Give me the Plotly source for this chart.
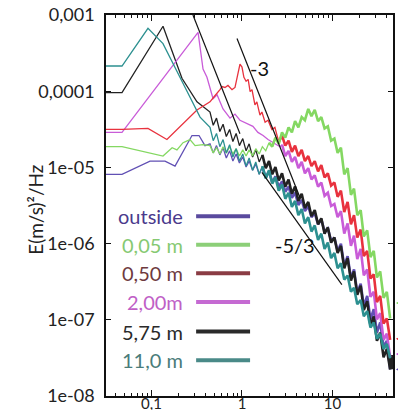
import math
import plotly.graph_objects as go

# ---------------- data ----------------
# shared high-frequency grid (Hz)
HF_FREQ = [0.443, 0.481, 0.523, 0.569, 0.618, 0.671, 0.730, 0.793, 0.862, 0.937,
           1.02, 1.11, 1.20, 1.31, 1.42, 1.55, 1.68, 1.83, 1.99, 2.16,
           2.34, 2.55, 2.77, 3.01, 3.27, 3.56, 3.86, 4.20, 4.57, 4.96,
           5.40, 5.86, 6.37, 6.93, 7.53, 8.18, 8.89, 9.66, 10.5, 11.4,
           12.4, 13.5, 14.7, 16.0, 17.3, 18.8, 20.5, 22.2, 24.2, 26.3,
           28.6, 31.0, 33.7, 36.7, 39.9, 43.4]

# outside
OUT_LOW_F = [0.031, 0.0472, 0.0962, 0.141, 0.182, 0.280, 0.335, 0.390]
OUT_LOW_E = [8.11e-6, 8.11e-6, 1.21e-5, 1.21e-5, 1.04e-5, 2.62e-5, 2.62e-5, 1.93e-5]
OUT_HF_E = [2.04e-5, 1.55e-5, 1.93e-5, 1.46e-5, 1.81e-5, 1.33e-5, 1.65e-5, 1.21e-5, 1.50e-5, 1.14e-5,
            1.37e-5, 1.01e-5, 1.21e-5, 9.17e-6, 1.10e-5, 8.11e-6, 1.01e-5, 7.39e-6, 8.89e-6, 6.33e-6,
            7.62e-6, 5.60e-6, 6.53e-6, 4.80e-6, 5.60e-6, 3.99e-6, 4.65e-6, 3.21e-6, 3.75e-6, 2.67e-6,
            3.11e-6, 2.22e-6, 2.51e-6, 1.79e-6, 2.08e-6, 1.44e-6, 1.58e-6, 1.09e-6, 1.20e-6, 8.01e-7,
            9.94e-7, 5.04e-7, 6.86e-7, 3.48e-7, 4.59e-7, 2.26e-7, 2.98e-7, 1.51e-7, 2.06e-7, 1.01e-7,
            1.38e-7, 6.78e-8, 9.23e-8, 4.40e-8, 5.30e-8, 2.23e-8]

# 0,05 m
GREEN_LOW_F = [0.031, 0.0472, 0.134, 0.169, 0.191, 0.223, 0.266, 0.303, 0.371]
GREEN_LOW_E = [1.87e-5, 1.87e-5, 1.41e-5, 1.81e-5, 1.70e-5, 2.11e-5, 2.32e-5, 1.93e-5, 1.99e-5]
GREEN_HF_E = [1.93e-5, 1.55e-5, 1.81e-5, 1.50e-5, 1.87e-5, 1.55e-5, 1.87e-5, 1.50e-5, 1.76e-5, 1.41e-5,
              1.70e-5, 1.41e-5, 1.70e-5, 1.41e-5, 1.76e-5, 1.50e-5, 1.87e-5, 1.65e-5, 2.11e-5, 1.87e-5,
              2.46e-5, 2.04e-5, 2.88e-5, 2.46e-5, 3.35e-5, 2.88e-5, 4.04e-5, 3.35e-5, 4.57e-5, 4.16e-5,
              5.85e-5, 4.71e-5, 5.67e-5, 4.04e-5, 4.57e-5, 3.25e-5, 3.46e-5, 2.24e-5, 2.39e-5, 1.55e-5,
              1.81e-5, 8.11e-6, 9.76e-6, 4.37e-6, 5.26e-6, 2.36e-6, 2.75e-6, 1.24e-6, 1.49e-6, 6.65e-7,
              8.01e-7, 3.59e-7, 4.32e-7, 1.94e-7, 2.33e-7, 1.04e-7]

# 0,50 m
RED_LOW_F = [0.031, 0.0472, 0.0914, 0.148, 0.318, 0.443, 0.491, 0.530, 0.571, 0.601,
             0.649, 0.700, 0.776, 0.837, 0.903, 0.950, 1.00, 1.05, 1.11, 1.17,
             1.23, 1.29, 1.39, 1.46, 1.58, 1.66, 1.80, 1.94, 2.14, 2.31, 2.44]
RED_LOW_E = [3.15e-5, 3.15e-5, 3.25e-5, 2.32e-5, 5.67e-5, 7.25e-5, 8.46e-5, 9.29e-5, 1.05e-4, 1.15e-4,
             1.12e-4, 1.19e-4, 1.05e-4, 1.12e-4, 1.62e-4, 2.27e-4, 2.07e-4, 1.52e-4, 1.35e-4, 1.43e-4,
             9.88e-5, 1.05e-4, 6.61e-5, 7.25e-5, 4.86e-5, 5.33e-5, 3.91e-5, 4.16e-5, 3.15e-5, 3.35e-5, 2.62e-5]
RED_HF_E = [2.18e-5, 2.62e-5, 1.93e-5, 2.24e-5, 1.60e-5, 1.93e-5, 1.41e-5, 1.70e-5, 1.21e-5, 1.41e-5,
            1.04e-5, 1.21e-5, 8.89e-6, 1.07e-5, 7.39e-6, 8.36e-6, 5.77e-6, 6.33e-6, 4.11e-6,
            4.95e-6, 2.59e-6, 3.52e-6, 1.79e-6, 2.36e-6, 1.20e-6, 1.53e-6, 6.86e-7, 8.01e-7, 3.48e-7,
            3.94e-7, 1.71e-7, 2.06e-7, 8.95e-8, 1.04e-7, 5.46e-8]

# 2,00 m
MAG_LOW_F = [0.031, 0.0472, 0.327, 0.371, 0.410, 0.479, 0.530, 0.617, 0.737, 0.837,
             0.950, 1.14, 1.32, 1.50, 1.71, 1.94, 2.31, 2.63]
MAG_LOW_E = [2.88e-5, 2.88e-5, 5.91e-4, 1.95e-4, 1.52e-4, 7.96e-5, 9.00e-5, 5.85e-5, 4.43e-5, 5.01e-5,
             4.16e-5, 3.80e-5, 3.46e-5, 2.88e-5, 2.62e-5, 2.32e-5, 2.04e-5, 1.87e-5]
MAG_HF_E = [1.99e-5, 1.41e-5, 1.65e-5, 1.18e-5, 1.37e-5, 9.76e-6, 1.18e-5, 8.36e-6, 9.76e-6, 6.95e-6,
            7.86e-6, 5.60e-6, 6.33e-6, 4.24e-6, 4.65e-6, 3.11e-6, 3.31e-6, 2.22e-6,
            2.67e-6, 1.35e-6, 1.84e-6, 9.34e-7, 1.27e-6, 6.26e-7, 8.52e-7, 3.82e-7, 4.59e-7, 2.00e-7,
            2.33e-7, 1.01e-7, 1.22e-7, 5.46e-8, 6.57e-8, 3.23e-8]

# 5,75 m
BLK_LOW_F = [0.031, 0.0472, 0.134, 0.217, 0.318]
BLK_LOW_E = [9.58e-5, 9.58e-5, 7.12e-4, 1.48e-4, 7.25e-5]
BLK_HF_E = [5.33e-5, 3.57e-5, 4.43e-5, 2.96e-5, 3.68e-5, 2.54e-5, 3.15e-5, 2.18e-5, 2.79e-5, 1.93e-5,
            2.39e-5, 1.65e-5, 2.04e-5, 1.37e-5, 1.70e-5, 1.18e-5, 1.46e-5, 9.76e-6, 1.21e-5, 8.11e-6,
            1.01e-5, 6.73e-6, 8.36e-6, 5.60e-6, 6.95e-6, 4.51e-6, 5.60e-6, 3.63e-6, 4.51e-6, 2.93e-6,
            3.52e-6, 2.29e-6, 2.75e-6, 1.79e-6, 2.15e-6, 1.35e-6, 1.63e-6, 1.03e-6, 1.20e-6, 7.53e-7,
            9.34e-7, 4.74e-7, 6.45e-7, 3.27e-7, 4.32e-7, 2.13e-7, 2.80e-7, 1.34e-7, 1.76e-7, 8.41e-8,
            1.11e-7, 5.30e-8, 6.78e-8, 3.23e-8, 4.14e-8, 2.23e-8]
BLK_TAIL_F = [44.0, 44.6, 45.2, 45.8, 46.3]
BLK_TAIL_E = [3.45e-8, 2.25e-8, 3.45e-8, 2.25e-8, 3.30e-8]

# 11,0 m
TEAL_LOW_F = [0.031, 0.0472, 0.0914, 0.134, 0.217, 0.344]
TEAL_LOW_E = [2.14e-4, 2.14e-4, 6.69e-4, 4.21e-4, 1.35e-4, 4.57e-5]
TEAL_HF_E = [3.35e-5, 2.24e-5, 2.79e-5, 1.87e-5, 2.32e-5, 1.55e-5, 1.99e-5, 1.37e-5, 1.76e-5, 1.21e-5,
             1.50e-5, 1.04e-5, 1.33e-5, 9.17e-6, 1.18e-5, 8.11e-6, 1.04e-5, 7.17e-6, 9.17e-6, 6.14e-6,
             7.39e-6, 4.95e-6, 5.96e-6, 3.87e-6, 4.65e-6, 3.02e-6, 3.63e-6, 2.36e-6, 2.84e-6, 1.84e-6,
             2.22e-6, 1.44e-6, 1.73e-6, 1.12e-6, 1.35e-6, 8.52e-7, 1.03e-6, 6.45e-7, 7.53e-7, 4.74e-7,
             5.53e-7, 3.37e-7, 3.82e-7, 2.33e-7, 2.64e-7, 1.60e-7, 1.82e-7, 1.11e-7, 1.30e-7, 7.91e-8,
             9.23e-8, 5.63e-8, 6.57e-8, 4.14e-8, 4.83e-8, 3.13e-8]

# reference slopes
REF3A_F = [0.881, 4.37]
REF3A_E = [4.92e-4, 4.03e-6]
REF3B_F = [0.287, 0.95]
REF3B_E = [1.0e-3, 2.77e-5]
REF53_F = [1.66, 12.7]
REF53_E = [8.63e-6, 2.90e-7]

SERIES_NAMES = ["outside", "0,05 m", "0,50 m", "2,00m", "5,75 m", "11,0 m"]
LINE_COLORS = ["#6150b4", "#84d862", "#e8323e", "#c95cd8", "#222222", "#2c9090"]
TEXT_COLORS = ["#4a3a8c", "#86c972", "#6e3a3e", "#c060c6", "#2a2a2a", "#4a7c7a"]
SWATCH_COLORS = ["#5a4a9e", "#8ccf78", "#8a3c44", "#c56ad2", "#2a2a2a", "#4a8a88"]
END_MARK_E = [1.66e-7, 5.63e-8, 3.55e-8, 2.23e-8]
END_MARK_COLORS = ["#84d862", "#e8323e", "#c95cd8", "#6150b4"]

X_TICKS = [0.1, 1, 10]
X_TICK_TEXT = ["0,1", "1", "10"]
X_MINOR = [0.04, 0.05, 0.06, 0.07, 0.08, 0.09, 0.2, 0.3, 0.4, 0.5, 0.6, 0.7, 0.8, 0.9,
           2, 3, 4, 5, 6, 7, 8, 9, 20, 30, 40]
Y_TICKS = [1e-3, 1e-4, 1e-5, 1e-6, 1e-7, 1e-8]
Y_TICK_TEXT = ["0,001", "0,0001", "1e-05", "1e-06", "1e-07", "1e-08"]

THIN, THICK = 1.3, 2.6

# ---------------- figure ----------------
fig = go.Figure()


def add_line(f, e, color, width):
    fig.add_trace(go.Scatter(x=f, y=e, mode="lines", line=dict(color=color, width=width),
                             showlegend=False, hoverinfo="skip"))


def add_series(low_f, low_e, hf_f, hf_e, color, split):
    # thin low-frequency part, thick (dense noise) high-frequency part
    add_line(low_f + hf_f[:split + 1], low_e + hf_e[:split + 1], color, THIN)
    add_line(hf_f[split:], hf_e[split:], color, THICK)


add_series(OUT_LOW_F, OUT_LOW_E, HF_FREQ, OUT_HF_E, LINE_COLORS[0], 16)
add_series(BLK_LOW_F, BLK_LOW_E, HF_FREQ + BLK_TAIL_F, BLK_HF_E + BLK_TAIL_E, LINE_COLORS[4], 16)
add_series(MAG_LOW_F, MAG_LOW_E, HF_FREQ[22:], MAG_HF_E, LINE_COLORS[3], 0)
add_series(RED_LOW_F, RED_LOW_E, HF_FREQ[21:], RED_HF_E, LINE_COLORS[2], 0)
add_series(GREEN_LOW_F, GREEN_LOW_E, HF_FREQ, GREEN_HF_E, LINE_COLORS[1], 18)
add_series(TEAL_LOW_F, TEAL_LOW_E, HF_FREQ, TEAL_HF_E, LINE_COLORS[5], 16)

for f, e in [(REF3A_F, REF3A_E), (REF3B_F, REF3B_E), (REF53_F, REF53_E)]:
    add_line(f, e, "#111111", 1.2)

annotations = []
# slope labels (log axis -> annotation coordinates are log10 values)
annotations.append(dict(x=0.188, y=-3.697, xref="x", yref="y", text="-3", showarrow=False,
                        font=dict(size=20, color="#111", family="Lato")))
annotations.append(dict(x=0.586, y=-6.016, xref="x", yref="y", text="-5/3", showarrow=False,
                        font=dict(size=20, color="#111", family="Lato")))

# legend text + swatches
leg_y = [0.472, 0.397, 0.322, 0.247, 0.169, 0.094]
shapes = []
for name, tc, sc, yy in zip(SERIES_NAMES, TEXT_COLORS, SWATCH_COLORS, leg_y):
    annotations.append(dict(x=0.275, y=yy, xref="paper", yref="paper", text=name,
                            xanchor="right", yanchor="middle", showarrow=False,
                            font=dict(size=20, color=tc, family="Lato")))
    shapes.append(dict(type="line", xref="paper", yref="paper", x0=0.314, x1=0.502,
                       y0=yy, y1=yy, line=dict(color=sc, width=4)))

# end markers on the right edge
for e, c in zip(END_MARK_E, END_MARK_COLORS):
    annotations.append(dict(x=1.01, y=math.log10(e), xref="paper", yref="y", text="",
                            showarrow=True, ax=11, ay=0, arrowhead=2, arrowsize=0.7,
                            arrowwidth=1.2, arrowcolor=c))

# y axis title
annotations.append(dict(x=-0.293, y=0.49, xref="paper", yref="paper", text="E(m/s)²/Hz",
                        textangle=-90, showarrow=False,
                        font=dict(size=19, color="#222", family="Lato")))

# the page body adds an 8px margin, so the figure is sized to fit inside the window
fig.update_layout(
    width=398, height=402,
    margin=dict(l=98, r=13, t=7, b=14, autoexpand=False),
    paper_bgcolor="white", plot_bgcolor="white",
    font=dict(family="Lato", color="#222"),
    annotations=annotations, shapes=shapes,
)
fig.update_xaxes(type="log", range=[-1.503, 1.669], tickmode="array", tickvals=X_TICKS,
                 ticktext=X_TICK_TEXT, ticks="inside", ticklen=6, tickwidth=1.2, tickcolor="#111",
                 minor=dict(tickmode="array", tickvals=X_MINOR, ticks="inside", ticklen=3,
                            tickcolor="#111", showgrid=False),
                 showline=True, linecolor="#111", linewidth=1.5, mirror="allticks",
                 ticklabelstandoff=-7, automargin=False, ticklabeloverflow="allow",
                 showgrid=False, zeroline=False, tickfont=dict(size=15, color="#222"))
fig.update_yaxes(type="log", range=[-8, -3], tickmode="array", tickvals=Y_TICKS,
                 ticktext=Y_TICK_TEXT, ticks="inside", ticklen=5, tickwidth=1.2, tickcolor="#111",
                 showline=True, linecolor="#111", linewidth=1.5, mirror="allticks",
                 ticklabelstandoff=6, automargin=False, ticklabeloverflow="allow",
                 showgrid=False, zeroline=False, tickfont=dict(size=18, color="#222"))

fig.write_html("out.html")
